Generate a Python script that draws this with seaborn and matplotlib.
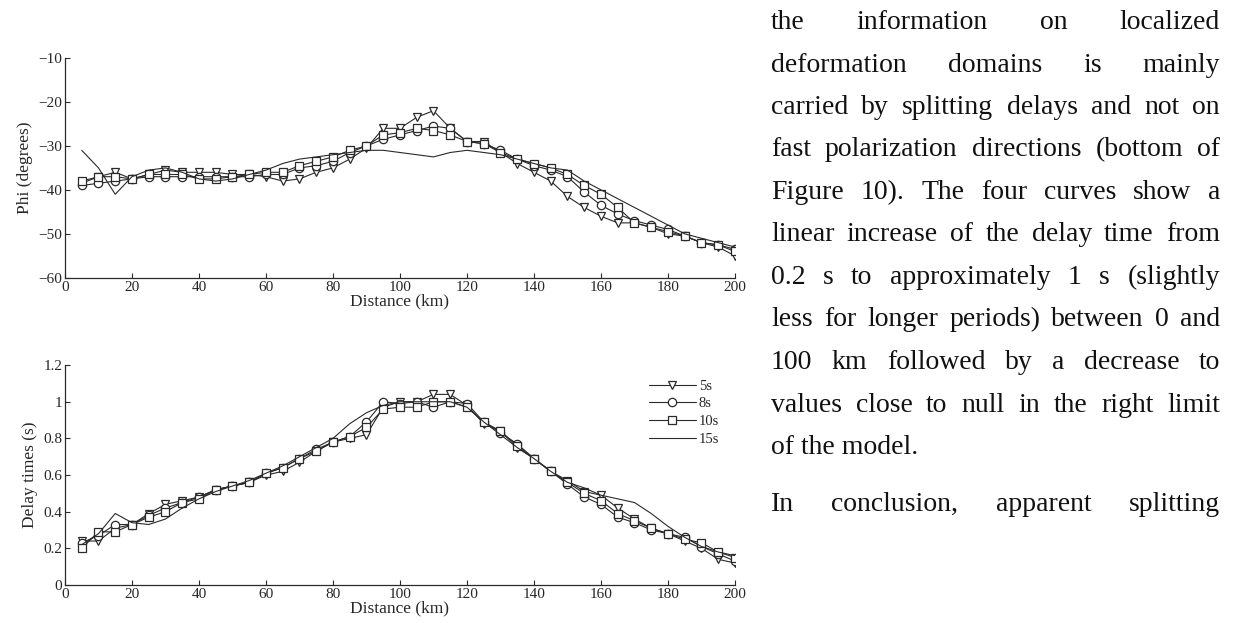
import numpy as np
import pandas as pd
import seaborn as sns
import matplotlib
matplotlib.use('Agg')
import matplotlib.pyplot as plt

# distances along the profile (km), one marker every 5 km
dist = [5, 10, 15, 20, 25, 30, 35, 40, 45, 50, 55, 60, 65, 70, 75, 80, 85, 90, 95, 100,
        105, 110, 115, 120, 125, 130, 135, 140, 145, 150, 155, 160, 165, 170, 175, 180, 185, 190, 195, 200]

# fast polarization direction (degrees)
phi_5s = [-38.5, -37, -36, -37.5, -36.5, -35.5, -36, -36, -36, -36.5, -36.5, -37, -38, -37.5, -36, -35, -33, -30.5, -26, -26,
          -23.5, -22, -26, -29, -29, -31.5, -34, -36, -38, -41.5, -44, -46, -47.5, -47.5, -48.5, -50, -50.5, -52, -53, -55]
phi_8s = [-39, -38.5, -38, -37.5, -37, -37, -37, -37, -37, -37, -37, -36.5, -36.5, -35, -34.5, -33.5, -31.5, -30, -28.5, -27.5,
          -26.5, -25.5, -26, -29, -29.5, -31, -33, -34.5, -35.5, -37, -40.5, -43.5, -45.5, -47, -48, -49, -50.5, -52, -52.5, -53.5]
phi_10s = [-38, -37, -37, -37.5, -36.5, -36.5, -36.5, -37.5, -37.5, -37, -36.5, -36, -36, -34.5, -33.5, -32.5, -31, -30, -27.5, -27,
           -26, -26.5, -27.5, -29, -29.5, -31.5, -33, -34, -35, -36.5, -39, -41, -44, -47.5, -48.5, -49.5, -50.5, -52, -52.5, -54]
phi_15s = [-31, -35, -41, -37, -35.5, -35, -36, -37.5, -38, -37.5, -36.5, -35.5, -34, -33, -32.5, -32, -31.5, -31, -31, -31.5,
           -32, -32.5, -31.5, -31, -31.5, -32, -33, -34, -35, -35.5, -38, -40, -42, -44, -46, -48, -50, -51, -52, -53]

# splitting delay times (s)
dt_5s = [0.24, 0.24, 0.31, 0.33, 0.39, 0.44, 0.46, 0.48, 0.52, 0.54, 0.56, 0.60, 0.62, 0.67, 0.73, 0.78, 0.80, 0.82, 0.97, 1.00,
         1.00, 1.04, 1.04, 0.98, 0.88, 0.84, 0.75, 0.69, 0.62, 0.57, 0.51, 0.49, 0.42, 0.36, 0.31, 0.28, 0.24, 0.20, 0.14, 0.12]
dt_8s = [0.23, 0.27, 0.33, 0.33, 0.38, 0.42, 0.45, 0.48, 0.52, 0.54, 0.56, 0.61, 0.64, 0.69, 0.74, 0.78, 0.81, 0.89, 1.00, 0.99,
         1.00, 0.97, 1.00, 0.99, 0.89, 0.83, 0.77, 0.69, 0.62, 0.55, 0.48, 0.44, 0.37, 0.34, 0.30, 0.28, 0.26, 0.21, 0.17, 0.13]
dt_10s = [0.20, 0.29, 0.29, 0.33, 0.37, 0.40, 0.45, 0.47, 0.52, 0.54, 0.56, 0.61, 0.64, 0.69, 0.73, 0.78, 0.81, 0.86, 0.96, 0.97,
          0.97, 1.00, 1.00, 0.97, 0.89, 0.84, 0.76, 0.69, 0.62, 0.56, 0.50, 0.46, 0.39, 0.35, 0.31, 0.28, 0.25, 0.23, 0.18, 0.15]
dt_15s = [0.22, 0.28, 0.39, 0.34, 0.33, 0.36, 0.42, 0.47, 0.51, 0.54, 0.57, 0.61, 0.65, 0.70, 0.75, 0.80, 0.88, 0.94, 0.98, 1.00,
          1.00, 1.00, 1.00, 0.97, 0.89, 0.82, 0.75, 0.69, 0.62, 0.56, 0.53, 0.49, 0.47, 0.45, 0.39, 0.32, 0.26, 0.21, 0.18, 0.16]

periods = ['5s', '8s', '10s', '15s']
markers = ['v', 'o', 's', None]

x_ticks = [0, 20, 40, 60, 80, 100, 120, 140, 160, 180, 200]
phi_ticks = [-60, -50, -40, -30, -20, -10]
dt_ticks = [0, 0.2, 0.4, 0.6, 0.8, 1.0, 1.2]
dt_tick_labels = ['0', '0.2', '0.4', '0.6', '0.8', '1', '1.2']

text_lines = [
    "the information on localized",
    "deformation domains is mainly",
    "carried by splitting delays and not on",
    "fast polarization directions (bottom of",
    "Figure 10). The four curves show a",
    "linear increase of the delay time from",
    "0.2 s to approximately 1 s (slightly",
    "less for longer periods) between 0 and",
    "100 km followed by a decrease to",
    "values close to null in the right limit",
    "of the model.",
    "In conclusion, apparent splitting",
]
justified = [True] * 10 + [False, True]

sns.set_style('ticks')
plt.rcParams['font.family'] = ['Liberation Serif', 'DejaVu Serif']
plt.rcParams['xtick.direction'] = 'in'
plt.rcParams['ytick.direction'] = 'in'

fig = plt.figure(figsize=(12.33, 6.23), dpi=100)
ax_phi = fig.add_axes([0.0527, 0.554, 0.5434, 0.353])
ax_dt = fig.add_axes([0.0527, 0.061, 0.5434, 0.353])

line_col = '#2a2a2a'
phi_data = [phi_5s, phi_8s, phi_10s, phi_15s]
dt_data = [dt_5s, dt_8s, dt_10s, dt_15s]

for ax, data in [(ax_phi, phi_data), (ax_dt, dt_data)]:
    for name, mk, vals in zip(periods, markers, data):
        kw = dict(color=line_col, linewidth=0.8)
        if mk is not None:
            kw.update(marker=mk, markersize=6, markerfacecolor='white',
                      markeredgecolor=line_col, markeredgewidth=0.9)
        sns.lineplot(x=dist, y=vals, ax=ax, label=name, **kw)
    ax.set_xlim(0, 200)
    ax.set_xticks(x_ticks)
    ax.set_xlabel('Distance (km)', fontsize=12.5, labelpad=0)
    ax.tick_params(labelsize=11, length=3.5, width=0.8, color=line_col, pad=2)
    sns.despine(ax=ax)
    for s in ['left', 'bottom']:
        ax.spines[s].set_linewidth(0.9)
        ax.spines[s].set_color(line_col)

ax_phi.set_ylim(-60, -10)
ax_phi.set_yticks(phi_ticks)
ax_phi.set_ylabel('Phi (degrees)', fontsize=12.5, labelpad=4)
ax_phi.get_legend().remove()

ax_dt.set_ylim(0, 1.2)
ax_dt.set_yticks(dt_ticks)
ax_dt.set_yticklabels(dt_tick_labels)
ax_dt.set_ylabel('Delay times (s)', fontsize=12.5, labelpad=4)
ax_dt.legend(loc='upper right', bbox_to_anchor=(0.985, 0.96), frameon=False,
             fontsize=10.5, handlelength=3.2, handletextpad=0.2, labelspacing=0.3,
             borderaxespad=0)

# justified paragraph text on the right
fig.canvas.draw()
renderer = fig.canvas.get_renderer()
x_left, x_right = 771, 1220
fs = 20
for i, (line, just) in enumerate(zip(text_lines, justified)):
    y_px = 29 + 42.5 * i if i < 11 else 511
    y = 1 - y_px / 623
    words = line.split(' ')
    if not just:
        fig.text(x_left / 1233, y, line, fontsize=fs, va='baseline', ha='left', color='#111')
        continue
    arts = [fig.text(0, y, w, fontsize=fs, va='baseline', ha='left', color='#111') for w in words]
    widths = [a.get_window_extent(renderer).width for a in arts]
    gap = (x_right - x_left - sum(widths)) / (len(words) - 1)
    xpos = x_left
    for a, w in zip(arts, widths):
        a.set_x(xpos / 1233)
        xpos += w + gap

fig.savefig('out.png', dpi=100)
